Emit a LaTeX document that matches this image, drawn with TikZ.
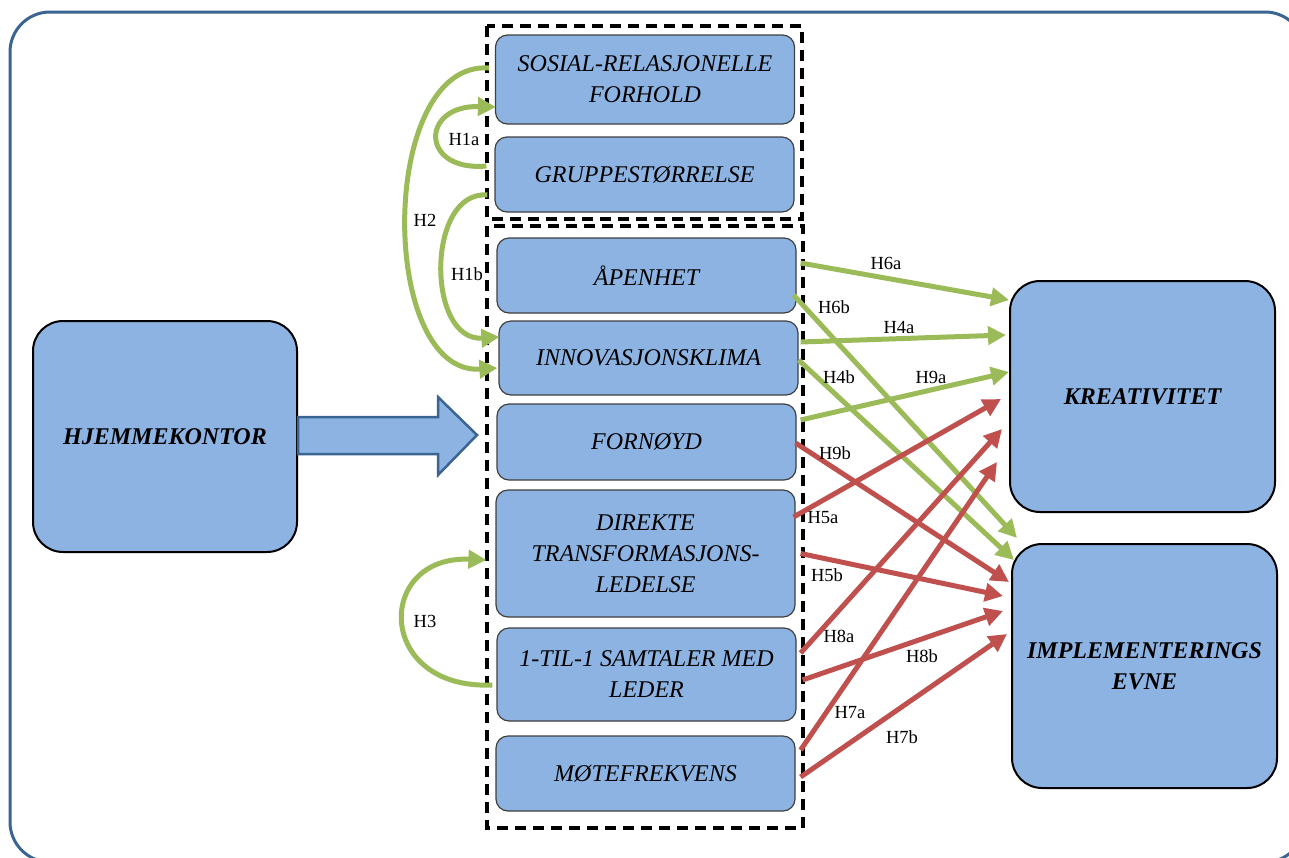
\documentclass[tikz,border=0pt]{standalone}
\usepackage{fontspec}
\setmainfont{Liberation Serif}
\usetikzlibrary{arrows.meta,calc}
\definecolor{boxfill}{HTML}{8DB3E2}
\definecolor{boxedge}{HTML}{3F3F3F}
\definecolor{frameblue}{HTML}{3A6491}
\definecolor{hgreen}{HTML}{9BBB59}
\definecolor{hred}{HTML}{C0504D}
\begin{document}
\begin{tikzpicture}[x=1pt,y=-1pt,
  inbox/.style={draw=boxedge,line width=1.2pt,fill=boxfill,rounded corners=12pt,
    minimum width=299pt,align=center,inner sep=2pt,
    font=\fontsize{24}{31}\selectfont\itshape},
  bigbox/.style={draw=black,line width=2pt,fill=boxfill,rounded corners=30pt,
    minimum width=265pt,align=center,
    font=\fontsize{24}{31}\selectfont\bfseries\itshape},
  grpbox/.style={draw=black,line width=3.8pt,dash pattern=on 11pt off 7pt},
  hyp/.style={line width=5pt,-{Triangle[length=18pt,width=18pt]}},
  hypg/.style={hyp,draw=hgreen},
  hypr/.style={hyp,draw=hred},
  lab/.style={font=\fontsize{18.5}{20}\selectfont,inner sep=0pt},
  bigarrow/.style={fill=boxfill,draw=frameblue,line width=2.5pt,line join=miter}
]
\useasboundingbox (0,0) rectangle (1289,857);
\clip (0,0) rectangle (1289,857);
% outer frame
\draw[frameblue,line width=3pt,rounded corners=40pt] (10,12) rectangle (1305,862);
% dashed groups
\draw[grpbox] (487,26) rectangle (802,219);
\draw[grpbox] (487,226) rectangle (803,828);
% inner boxes
\node[inbox,minimum height=89pt] (sos) at (645,79.5) {SOSIAL-RELASJONELLE\\FORHOLD};
\node[inbox,minimum height=75pt] (grp) at (644.5,174.5) {GRUPPESTØRRELSE};
\node[inbox,minimum height=75pt] (ape) at (646.5,275.5) {ÅPENHET};
\node[inbox,minimum height=74pt] (inn) at (648.5,358) {INNOVASJONSKLIMA};
\node[inbox,minimum height=76pt] (forn) at (646.5,442) {FORNØYD};
\node[inbox,minimum height=127pt] (dir) at (645.5,553.5) {DIREKTE\\TRANSFORMASJONS-\\LEDELSE};
\node[inbox,minimum height=93pt] (til) at (646.5,674.5) {1-TIL-1 SAMTALER MED\\LEDER};
\node[inbox,minimum height=75pt] (mote) at (645.5,773.5) {MØTEFREKVENS};
% big boxes
\node[bigbox,minimum width=264pt,minimum height=231pt] (hjem) at (165,436.5) {HJEMMEKONTOR};
\node[bigbox,minimum height=231pt] (krea) at (1142.5,396.5) {KREATIVITET};
\node[bigbox,minimum height=244pt] (impl) at (1144.5,666) {IMPLEMENTERINGS\\EVNE};
% big block arrow
\draw[bigarrow] ($(hjem.east)+(0,-19.5)$) -- (438,417) -- (438,397) -- (477,435)
  -- (438,475) -- (438,454) -- ($(hjem.east)+(0,17.5)$) -- cycle;
% curved green arrows
\draw[hypg] ($(grp.west)+(-8,-8.5)$) .. controls (420,172) and (420,105) .. ($(sos.west)+(1,27.5)$);
\node[lab] (l1a) at (464,139) {H1a};
\draw[hypg] ($(sos.west)+(-6,-11.5)$) .. controls (378,60) and (378,376) .. ($(inn.west)+(-1,10)$);
\node[lab] (l2) at (425,220) {H2};
\draw[hypg] ($(grp.west)+(-7,20.5)$) .. controls (426,190) and (426,342) .. ($(inn.west)+(1,-21)$);
\node[lab] (l1b) at (467,274) {H1b};
\draw[hypg] ($(til.west)+(-4,10.5)$) .. controls (375,690) and (375,555) .. ($(dir.west)+(-9,6.5)$);
\node[lab] (l3) at (425,621) {H3};
% straight green arrows
\draw[hypg] ($(ape.east)+(4,-12.5)$) -- ($(krea.west)+(0,-96.5)$);
\node[lab] (l6a) at (886,263) {H6a};
\draw[hypg] ($(ape.east)+(-3,19.5)$) -- ($(impl.west)+(6,-128)$);
\node[lab] (l6b) at (834,307) {H6b};
\draw[hypg] ($(inn.east)+(2,-16)$) -- ($(krea.west)+(-3,-61.5)$);
\node[lab] (l4a) at (899,327) {H4a};
\draw[hypg] ($(inn.east)+(0,2)$) -- ($(impl.west)+(3,-106)$);
\node[lab] (l4b) at (839,377) {H4b};
\draw[hypg] ($(forn.east)+(4,-22)$) -- ($(krea.west)+(0,-24.5)$);
\node[lab] (l9a) at (931,377) {H9a};
% red arrows
\draw[hypr] ($(forn.east)+(-1,1)$) -- ($(impl.west)+(-2,-84)$);
\node[lab] (l9b) at (835,453) {H9b};
\draw[hypr] ($(dir.east)+(-2,-36.5)$) -- ($(krea.west)+(-8,2.5)$);
\node[lab] (l5a) at (823,518) {H5a};
\draw[hypr] ($(dir.east)+(5,0)$) -- ($(impl.west)+(-8,-70)$);
\node[lab] (l5b) at (827,575) {H5b};
\draw[hypr] ($(til.east)+(4,-21.5)$) -- ($(krea.west)+(-7,32.5)$);
\node[lab] (l8a) at (839,636) {H8a};
\draw[hypr] ($(til.east)+(6,5.5)$) -- ($(impl.west)+(-8,-55)$);
\node[lab] (l8b) at (922,656) {H8b};
\draw[hypr] ($(mote.east)+(5,-23.5)$) -- ($(krea.west)+(-12,65.5)$);
\node[lab] (l7a) at (850,713) {H7a};
\draw[hypr] ($(mote.east)+(5,3.5)$) -- ($(impl.west)+(-4,-32)$);
\node[lab] (l7b) at (902,737) {H7b};
\end{tikzpicture}
\end{document}
